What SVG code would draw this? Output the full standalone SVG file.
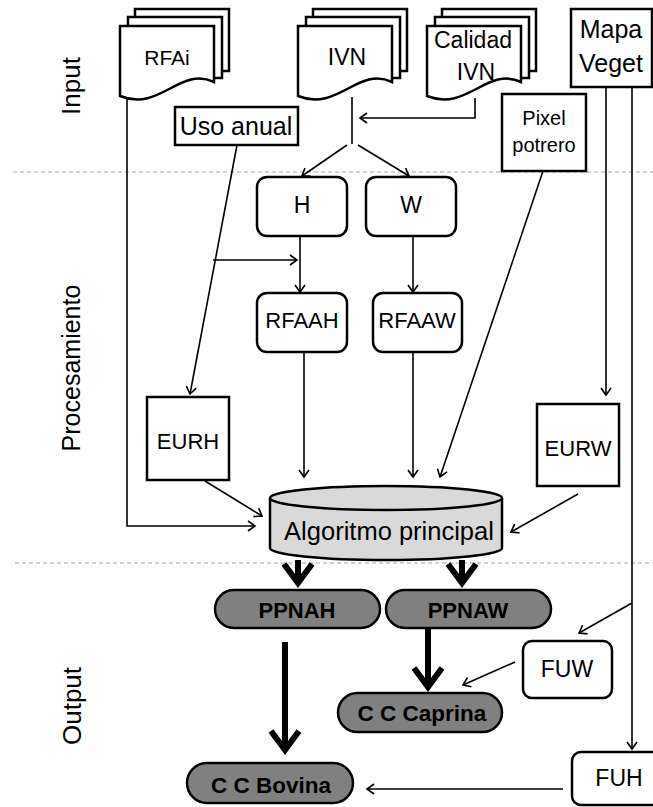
<svg xmlns="http://www.w3.org/2000/svg" xmlns:xlink="http://www.w3.org/1999/xlink" width="653" height="807" viewBox="0 0 653 807">
<style>
text{font-family:"Liberation Sans",Arial,sans-serif;fill:#000;text-anchor:middle}
.box{fill:#fff;stroke:#000;stroke-width:2.5}
.pill{fill:#808080;stroke:#000;stroke-width:2.5}
.cyl{fill:#d9d9d9;stroke:#000;stroke-width:2.5}
.b{font-weight:bold}
.sep{stroke:#a6a6a6;stroke-width:1.2;stroke-dasharray:4 3;fill:none}
.thin{fill:none;stroke:#000;stroke-width:1.6}
.thick{fill:none;stroke:#000;stroke-width:6}
marker{overflow:visible}
</style>
<defs>
<marker id="ah" markerUnits="userSpaceOnUse" markerWidth="10" markerHeight="10" viewBox="0 0 10 10" refX="7" refY="5" orient="auto">
<path d="M0,0 L7,5 L0,10" fill="none" stroke="#000" stroke-width="1.6"/>
</marker>
<marker id="ahT" markerUnits="userSpaceOnUse" markerWidth="30" markerHeight="36" viewBox="0 0 30 36" refX="22" refY="18" orient="auto">
<path d="M3,4 L22,18 L3,32" fill="none" stroke="#000" stroke-width="6"/>
</marker>
<g id="docstack" class="box">
<rect x="135" y="9" width="94" height="62"/>
<rect x="128" y="17" width="94" height="61"/>
<path d="M120,26 H214 V82 C180,66 160,112 120,96 Z"/>
</g>
</defs>

<g id="separators">
<line class="sep" x1="13" y1="172" x2="653" y2="172"/>
<line class="sep" x1="15" y1="563" x2="653" y2="563"/>
</g>

<g id="section-labels" font-size="25">
<text transform="translate(80,86) rotate(-90)" font-size="26">Input</text>
<text transform="translate(80,368) rotate(-90)">Procesamiento</text>
<text transform="translate(81,706) rotate(-90)" font-size="26">Output</text>
</g>

<g id="connectors">
<path class="thin" d="M127,98 V526 H255" marker-end="url(#ah)"/>
<path class="thin" d="M237,145 L190,394" marker-end="url(#ah)"/>
<path class="thin" d="M213,260 H297" marker-end="url(#ah)"/>
<path class="thin" d="M352,97 V144"/>
<path class="thin" d="M475,98 V118 H360" marker-end="url(#ah)"/>
<path class="thin" d="M347,145 L302,176" marker-end="url(#ah)"/>
<path class="thin" d="M358,145 L409,176" marker-end="url(#ah)"/>
<path class="thin" d="M300,236 V292" marker-end="url(#ah)"/>
<path class="thin" d="M413,236 V292" marker-end="url(#ah)"/>
<path class="thin" d="M304,352 V477" marker-end="url(#ah)"/>
<path class="thin" d="M413,352 V477" marker-end="url(#ah)"/>
<path class="thin" d="M543,171 L440,477" marker-end="url(#ah)"/>
<path class="thin" d="M606,87 V395" marker-end="url(#ah)"/>
<path class="thin" d="M632,87 V749" marker-end="url(#ah)"/>
<path class="thin" d="M205,481 L262,516" marker-end="url(#ah)"/>
<path class="thin" d="M578,494 L511,532" marker-end="url(#ah)"/>
<path class="thin" d="M632,603 L579,633" marker-end="url(#ah)"/>
<path class="thin" d="M515,662 L463,685" marker-end="url(#ah)"/>
<path class="thin" d="M563,789 H367" marker-end="url(#ah)"/>
<path class="thick" d="M298,560 V583" marker-end="url(#ahT)"/>
<path class="thick" d="M462,560 V583" marker-end="url(#ahT)"/>
<path class="thick" d="M428,628 V687" marker-end="url(#ahT)"/>
<path class="thick" d="M285,642 V750" marker-end="url(#ahT)"/>
</g>

<g id="RFAi">
<use xlink:href="#docstack" href="#docstack"/>
<text x="167" y="65" font-size="21">RFAi</text>
</g>
<g id="IVN">
<use xlink:href="#docstack" href="#docstack" transform="translate(178,0)"/>
<text x="347" y="65" font-size="23">IVN</text>
</g>
<g id="CalidadIVN">
<use xlink:href="#docstack" href="#docstack" transform="translate(307,0)"/>
<text x="473" y="48" font-size="23">Calidad</text>
<text x="476" y="80" font-size="23">IVN</text>
</g>
<g id="MapaVeget">
<rect class="box" x="571" y="9" width="81" height="78"/>
<text x="611" y="38" font-size="25">Mapa</text>
<text x="611" y="72" font-size="25">Veget</text>
</g>
<g id="UsoAnual">
<rect class="box" x="175" y="107" width="123" height="38"/>
<text x="236" y="135" font-size="25">Uso anual</text>
</g>
<g id="PixelPotrero">
<rect class="box" x="502" y="94" width="84" height="77"/>
<text x="544" y="125" font-size="20">Pixel</text>
<text x="544" y="152" font-size="20">potrero</text>
</g>
<g id="H">
<rect class="box" x="257" y="177" width="90" height="59" rx="10"/>
<text x="302" y="213" font-size="23">H</text>
</g>
<g id="W">
<rect class="box" x="366" y="177" width="90" height="59" rx="10"/>
<text x="411" y="213" font-size="23">W</text>
</g>
<g id="RFAAH">
<rect class="box" x="257" y="293" width="90" height="59" rx="10"/>
<text x="302" y="328" font-size="22">RFAAH</text>
</g>
<g id="RFAAW">
<rect class="box" x="373" y="293" width="89" height="59" rx="10"/>
<text x="417" y="328" font-size="22">RFAAW</text>
</g>
<g id="EURH">
<rect class="box" x="147" y="397" width="82" height="83"/>
<text x="188" y="449" font-size="22">EURH</text>
</g>
<g id="EURW">
<rect class="box" x="537" y="404" width="82" height="82"/>
<text x="578" y="456" font-size="22">EURW</text>
</g>
<g id="AlgoritmoPrincipal">
<path class="cyl" d="M270,498 V548 A116,12 0 0 0 502,548 V498"/>
<ellipse class="cyl" cx="386" cy="498" rx="116" ry="12"/>
<text x="389" y="540" font-size="25.5">Algoritmo principal</text>
</g>
<g id="PPNAH">
<rect class="pill" x="215" y="590" width="165" height="38" rx="19"/>
<text class="b" x="297" y="618" font-size="22">PPNAH</text>
</g>
<g id="PPNAW">
<rect class="pill" x="386" y="590" width="165" height="38" rx="19"/>
<text class="b" x="468" y="618" font-size="22">PPNAW</text>
</g>
<g id="CCCaprina">
<rect class="pill" x="338" y="693" width="164" height="39" rx="19.5"/>
<text class="b" x="422" y="721" font-size="22.5">C C Caprina</text>
</g>
<g id="CCBovina">
<rect class="pill" x="187" y="763" width="166" height="40" rx="20"/>
<text class="b" x="271" y="793" font-size="22.5">C C Bovina</text>
</g>
<g id="FUW">
<rect class="box" x="523" y="641" width="89" height="57" rx="9"/>
<text x="567" y="677" font-size="23">FUW</text>
</g>
<g id="FUH">
<rect class="box" x="572" y="752" width="90" height="53" rx="9"/>
<text x="619" y="786" font-size="23">FUH</text>
</g>
</svg>
